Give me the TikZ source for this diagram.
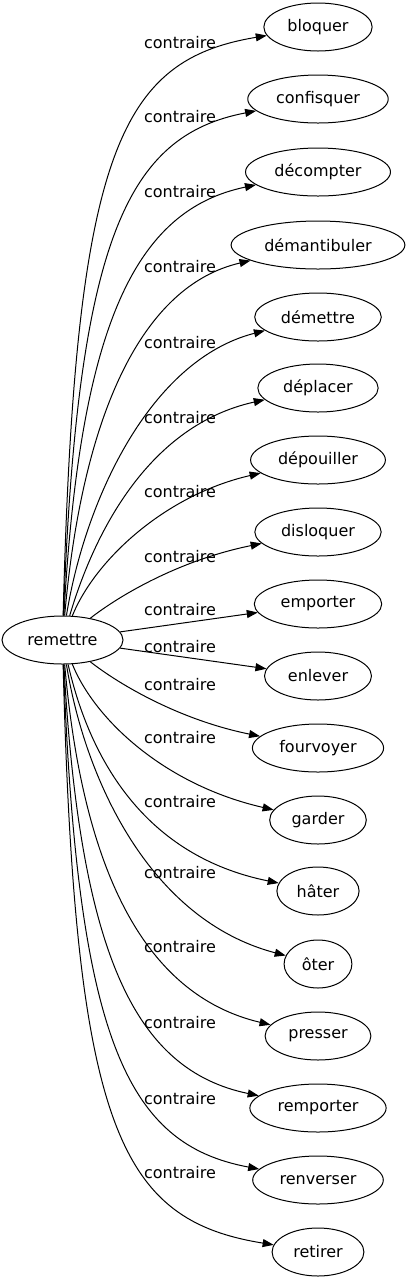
\documentclass[tikz,border=0pt]{standalone}
\usepackage{fontspec}
\setmainfont{DejaVu Sans}
\usetikzlibrary{shapes.geometric,arrows.meta,positioning}

\begin{document}
\begin{tikzpicture}[
    x=0.75pt, y=-0.75pt,
    word/.style={ellipse, draw, line width=0.75pt, inner xsep=5.8pt, inner ysep=1pt, minimum height=36pt, font=\fontsize{12}{14}\selectfont},
    rel/.style={font=\fontsize{12}{14}\selectfont},
    arrow/.style={-{Triangle[length=8.25pt, width=6pt]}, line width=0.75pt}
]
\useasboundingbox (0,0) rectangle (407,1283);

% Source word
\node[word] (remettre) at (62.5,640) {remettre};

% Opposite words
\node[word] (bloquer) at (318,27) {bloquer};
\node[word] (confisquer) at (318,99) {confisquer};
\node[word] (decompter) at (318,172) {décompter};
\node[word] (demantibuler) at (318,245) {démantibuler};
\node[word] (demettre) at (318,317) {démettre};
\node[word] (deplacer) at (318,388) {déplacer};
\node[word] (depouiller) at (318,460) {dépouiller};
\node[word] (disloquer) at (318,532) {disloquer};
\node[word] (emporter) at (318,604) {emporter};
\node[word] (enlever) at (318,676) {enlever};
\node[word] (fourvoyer) at (318,748) {fourvoyer};
\node[word] (garder) at (318,820) {garder};
\node[word] (hater) at (318,891) {hâter};
\node[word] (oter) at (318,964) {ôter};
\node[word] (presser) at (318,1036) {presser};
\node[word] (remporter) at (318,1108) {remporter};
\node[word] (renverser) at (318,1180) {renverser};
\node[word] (retirer) at (318,1252) {retirer};

% Edge labels
\node[rel] (lbloquer) at (180,43) {contraire};
\node[rel] (lconfisquer) at (180,117) {contraire};
\node[rel] (ldecompter) at (180,192) {contraire};
\node[rel] (ldemantibuler) at (180,267) {contraire};
\node[rel] (ldemettre) at (180,343) {contraire};
\node[rel] (ldeplacer) at (180,418) {contraire};
\node[rel] (ldepouiller) at (180,492) {contraire};
\node[rel] (ldisloquer) at (180,557) {contraire};
\node[rel] (lemporter) at (180,610) {contraire};
\node[rel] (lenlever) at (180,647) {contraire};
\node[rel] (lfourvoyer) at (180,685) {contraire};
\node[rel] (lgarder) at (180,738) {contraire};
\node[rel] (lhater) at (180,802) {contraire};
\node[rel] (loter) at (180,873) {contraire};
\node[rel] (lpresser) at (180,947) {contraire};
\node[rel] (lremporter) at (180,1023) {contraire};
\node[rel] (lrenverser) at (180,1099) {contraire};
\node[rel] (lretirer) at (180,1173) {contraire};

% Edges
\draw[arrow] (remettre) .. controls (75,150) and (120,60) .. (bloquer);
\draw[arrow] (remettre) .. controls (77.5,238) and (127.5,135.5) .. (confisquer);
\draw[arrow] (remettre) .. controls (80,325) and (135,210) .. (decompter);
\draw[arrow] (remettre) .. controls (82.5,413) and (142.5,285.5) .. (demantibuler);
\draw[arrow] (remettre) .. controls (85,500) and (150,360) .. (demettre);
\draw[arrow] (remettre) .. controls (95,530) and (150,425) .. (deplacer);
\draw[arrow] (remettre) .. controls (95,560) and (165,495) .. (depouiller);
\draw[arrow] (remettre) .. controls (120,595) and (180,560) .. (disloquer);
\draw[arrow] (remettre) -- (emporter);
\draw[arrow] (remettre) -- (enlever);
\draw[arrow] (remettre) .. controls (120,685) and (180,720) .. (fourvoyer);
\draw[arrow] (remettre) .. controls (95,720) and (165,785) .. (garder);
\draw[arrow] (remettre) .. controls (90,760) and (145,856) .. (hater);
\draw[arrow] (remettre) .. controls (85,780) and (150,920) .. (oter);
\draw[arrow] (remettre) .. controls (82.5,867) and (142.5,994.5) .. (presser);
\draw[arrow] (remettre) .. controls (80,955) and (135,1070) .. (remporter);
\draw[arrow] (remettre) .. controls (77.5,1042) and (127.5,1144.5) .. (renverser);
\draw[arrow] (remettre) .. controls (75,1130) and (120,1220) .. (retirer);

\end{tikzpicture}
\end{document}
